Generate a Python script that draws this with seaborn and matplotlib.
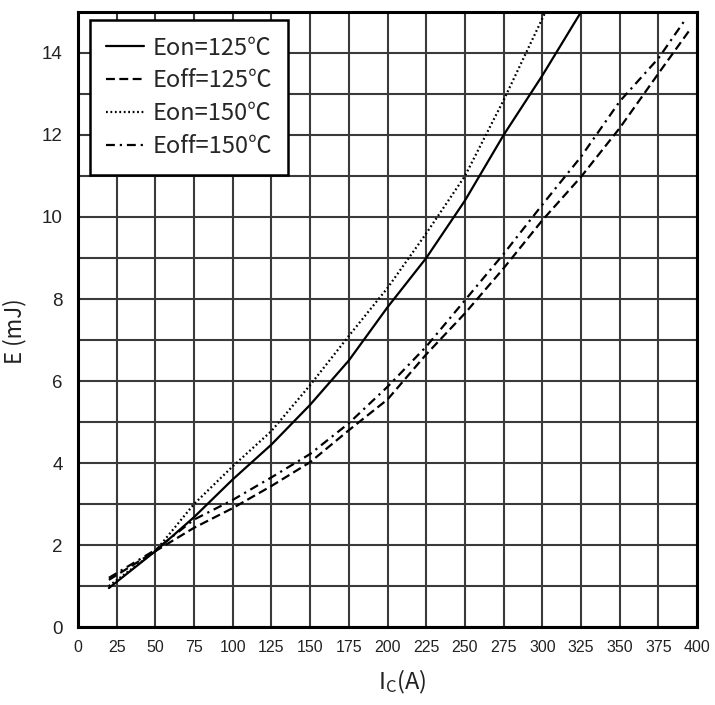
import pandas as pd
import matplotlib
matplotlib.use('Agg')
import matplotlib.pyplot as plt
from matplotlib.ticker import MultipleLocator
import seaborn as sns

# Switching energy curves
ic_eon125 = [20, 50, 75, 100, 125, 150, 175, 200, 225, 250, 275, 300, 325]
e_eon125 = [0.95, 1.85, 2.68, 3.6, 4.45, 5.42, 6.5, 7.8, 9.0, 10.4, 12.0, 13.45, 15.0]

ic_eoff125 = [20, 50, 75, 100, 125, 150, 175, 200, 225, 250, 275, 300, 325, 350, 375, 395]
e_eoff125 = [1.15, 1.85, 2.42, 2.9, 3.44, 4.02, 4.8, 5.55, 6.65, 7.65, 8.75, 9.92, 10.98, 12.17, 13.5, 14.55]

ic_eon150 = [20, 50, 75, 100, 125, 150, 175, 200, 225, 250, 275, 302]
e_eon150 = [1.0, 1.85, 3.0, 3.92, 4.78, 5.9, 7.1, 8.27, 9.6, 11.0, 12.85, 15.0]

ic_eoff150 = [20, 50, 75, 100, 125, 150, 175, 200, 225, 250, 275, 300, 325, 350, 375, 393]
e_eoff150 = [1.2, 1.88, 2.62, 3.1, 3.65, 4.22, 4.97, 5.86, 6.84, 7.97, 9.1, 10.3, 11.47, 12.82, 13.87, 14.85]

labels = ['Eon=125℃', 'Eoff=125℃', 'Eon=150℃', 'Eoff=150℃']
x_ticks = list(range(0, 401, 25))

df = pd.concat([
    pd.DataFrame({'Ic': ic_eon125, 'E': e_eon125, 'curve': labels[0]}),
    pd.DataFrame({'Ic': ic_eoff125, 'E': e_eoff125, 'curve': labels[1]}),
    pd.DataFrame({'Ic': ic_eon150, 'E': e_eon150, 'curve': labels[2]}),
    pd.DataFrame({'Ic': ic_eoff150, 'E': e_eoff150, 'curve': labels[3]}),
], ignore_index=True)

sns.set_theme(style='white')
plt.rcParams['font.family'] = ['Liberation Sans', 'Noto Sans CJK SC']
cjk = ['Noto Sans CJK SC', 'DejaVu Sans']

dash_map = {
    labels[0]: '',
    labels[1]: (4, 2),
    labels[2]: (0.8, 1.2),
    labels[3]: (4, 2.2, 1, 2.2),
}

fig = plt.figure(figsize=(7.15, 7.05), dpi=100)
ax = fig.add_axes([0.109, 0.1106, 0.866, 0.8724])

sns.lineplot(data=df, x='Ic', y='E', style='curve', style_order=labels,
             dashes=dash_map, color='black', linewidth=1.6, ax=ax,
             estimator=None)

ax.set_xlim(0, 400)
ax.set_ylim(0, 15)
ax.set_xticks(x_ticks)
ax.yaxis.set_major_locator(MultipleLocator(2))
ax.yaxis.set_minor_locator(MultipleLocator(1))
ax.grid(True, which='both', color='#3a3a3a', linewidth=1.5)
ax.set_axisbelow(True)
ax.tick_params(axis='x', which='both', length=0, pad=9, labelsize=11.5, colors='#222222')
ax.tick_params(axis='y', which='both', length=0, pad=11, labelsize=13.5, colors='#222222')
for sp in ax.spines.values():
    sp.set_visible(True)
    sp.set_color('black')
    sp.set_linewidth(2.2)

ax.set_xlabel(r'$\mathregular{I_C}$(A)', fontsize=17, color='#222222', family=cjk)
ax.set_ylabel('E (mJ)', fontsize=16, color='#222222', family=cjk)
ax.xaxis.set_label_coords(0.523, -0.066)
ax.yaxis.set_label_coords(-0.084, 0.481)

handles, _ = ax.get_legend_handles_labels()
for h in handles:
    h.set_color('black')
    h.set_linewidth(1.6)
leg = ax.legend(handles[-4:], labels, loc='upper left', bbox_to_anchor=(0.019, 0.987),
                prop={'family': cjk, 'size': 17}, frameon=True, fancybox=False, framealpha=1,
                handlelength=1.6, handletextpad=0.35, labelspacing=0.42,
                borderpad=0.7, borderaxespad=0)
leg.get_frame().set_edgecolor('black')
leg.get_frame().set_linewidth(1.8)

fig.savefig('out.png', dpi=100)
